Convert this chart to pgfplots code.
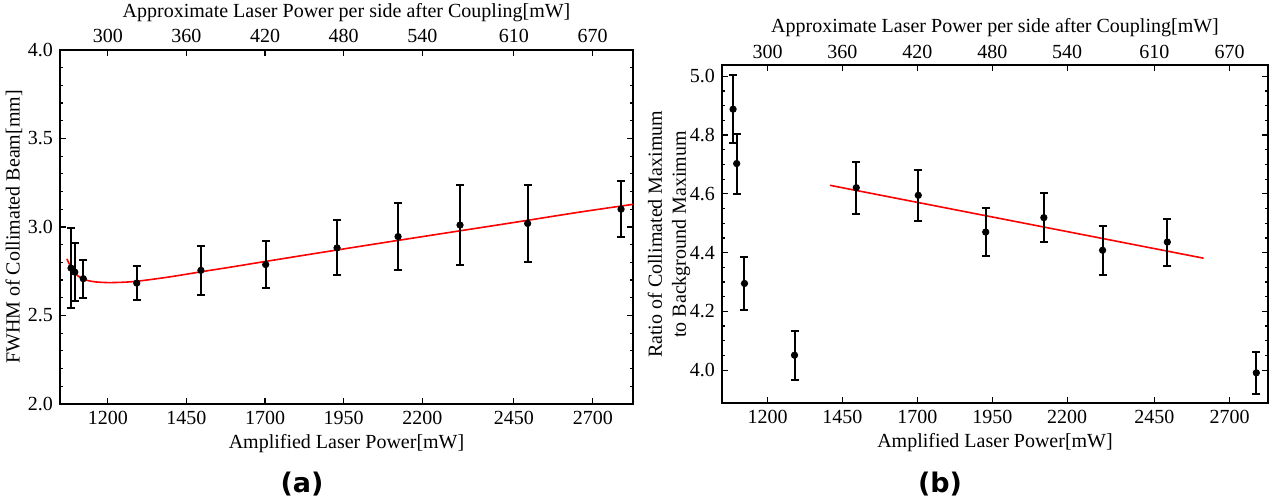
\documentclass[border=0pt]{standalone}
\usepackage{pgfplots}
\usepackage{pgfplotstable}
\pgfplotsset{compat=1.18}
\usepackage{fontspec}
\setmainfont{Liberation Serif}
\newfontfamily\capfont{DejaVu Sans}

\pgfplotstableread{
x y e
1083 2.768 0.226
1095 2.745 0.164
1122 2.708 0.108
1292 2.683 0.096
1496 2.755 0.138
1702 2.788 0.133
1929 2.882 0.155
2123 2.946 0.188
2320 3.011 0.225
2535 3.020 0.218
2832 3.101 0.159
}\leftdata

\pgfplotstableread{
x y
1070 2.820
1080 2.782
1090 2.752
1100 2.731
1115 2.712
1135 2.698
1160 2.690
1200 2.686
1250 2.688
1300 2.695
1400 2.719
1500 2.748
1600 2.776
1700 2.805
1900 2.862
2100 2.918
2300 2.973
2500 3.028
2700 3.084
2870 3.128
}\leftfit

\pgfplotstableread{
x y e
1085 4.888 0.115
1097 4.703 0.102
1123 4.295 0.091
1290 4.051 0.083
1496 4.621 0.088
1703 4.595 0.086
1928 4.470 0.081
2122 4.519 0.083
2318 4.408 0.083
2534 4.436 0.080
2831 3.991 0.072
}\rightdata

\pgfplotstableread{
x y
1408 4.629
2655 4.381
}\rightfit

\pgfplotsset{
  mma/.style={
    scale only axis,
    xmin=1048, xmax=2870,
    axis line style={line width=1pt},
    tick style={black, line width=0.6pt},
    major tick length=3pt,
    minor tick length=1.6pt,
    tick align=inside,
    xtick={1200,1450,1700,1950,2200,2491,2742},
    xticklabels={1200,1450,1700,1950,2200,2450,2700},
    tick label style={font=\fontsize{10}{12}\selectfont},
    label style={font=\fontsize{10}{12}\selectfont},
    /pgf/number format/assume math mode=true,
    yticklabel style={/pgf/number format/.cd, fixed, fixed zerofill, precision=1},
    xlabel={Amplified Laser Power[mW]},
    xlabel style={yshift=2pt},
  },
  topax/.style={
    scale only axis,
    xmin=1048, xmax=2870, ymin=0, ymax=1,
    axis x line*=top,
    axis y line=none,
    x axis line style={draw=none},
    xtick style={draw=none},
    xtick={1200,1450,1700,1950,2200,2491,2742},
    xticklabels={300,360,420,480,540,610,670},
    tick label style={font=\fontsize{10}{12}\selectfont},
    label style={font=\fontsize{10}{12}\selectfont},
    /pgf/number format/assume math mode=true,
    xlabel={Approximate Laser Power per side after Coupling[mW]},
    xlabel style={yshift=-3pt},
  },
  pts/.style={black, only marks, mark=*, mark size=1.6pt,
    error bars/.cd, y dir=both, y explicit,
    error bar style={line width=1pt, black},
    error mark options={mark size=2pt, line width=1pt, black, rotate=90}},
}

\begin{document}
\begin{tikzpicture}
\useasboundingbox (0,0) rectangle (639pt,251pt);

% ---------- (a) ----------
\begin{axis}[mma,
  at={(30pt,49pt)}, anchor=south west,
  width=286.5pt, height=177pt,
  ymin=2.0, ymax=4.0,
  ytick={2.0,2.5,3.0,3.5,4.0},
  minor y tick num=4,
  ylabel={FWHM of Collimated Beam[mm]},
  ylabel style={yshift=-4pt},
]
\addplot[red, line width=0.8pt, smooth, no marks] table[x=x,y=y] {\leftfit};
\addplot[pts] table[x=x,y=y,y error=e] {\leftdata};
\end{axis}
\begin{axis}[topax,
  at={(30pt,49pt)}, anchor=south west,
  width=286.5pt, height=177pt,
]
\end{axis}

% ---------- (b) ----------
\begin{axis}[mma,
  at={(361pt,49.3pt)}, anchor=south west,
  width=273pt, height=169pt,
  ymin=3.887, ymax=5.037,
  ytick={4.0,4.2,4.4,4.6,4.8,5.0},
  minor y tick num=3,
  ylabel={Ratio of Collimated Maximum\\to Background Maximum},
  ylabel style={align=center, yshift=-7pt},
]
\addplot[red, line width=0.8pt, no marks] table[x=x,y=y] {\rightfit};
\addplot[pts] table[x=x,y=y,y error=e] {\rightdata};
\end{axis}
\begin{axis}[topax,
  at={(361pt,49.3pt)}, anchor=south west,
  width=273pt, height=169pt,
]
\end{axis}

\node[font=\capfont\bfseries\fontsize{13.5}{15}\selectfont] at (151pt,9pt) {(a)};
\node[font=\capfont\bfseries\fontsize{13.5}{15}\selectfont] at (470pt,9pt) {(b)};
\end{tikzpicture}
\end{document}
